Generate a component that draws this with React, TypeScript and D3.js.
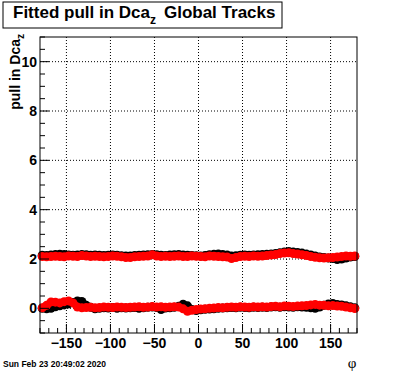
import * as d3 from 'd3';
import React from 'react';

// phi bins: 72 bins of 5 degrees over [-180, 180]
const binLow = -180, binWidth = 5, nBins = 72
const phiBins = d3.range(nBins).map(i => binLow + binWidth * (i + 0.5))

// upper band (fit width), black then red
const upperBlack = [
  2.15, 2.14, 2.16, 2.18, 2.19, 2.18, 2.16, 2.15, 2.16, 2.18,
  2.17, 2.15, 2.16, 2.15, 2.14, 2.15, 2.16, 2.15, 2.13, 2.12,
  2.12, 2.14, 2.15, 2.16, 2.17, 2.18, 2.17, 2.15, 2.14, 2.16,
  2.17, 2.18, 2.16, 2.15, 2.14, 2.13, 2.12, 2.14, 2.17, 2.19,
  2.20, 2.18, 2.16, 2.12, 2.13, 2.15, 2.16, 2.15, 2.16, 2.17,
  2.18, 2.19, 2.20, 2.22, 2.25, 2.28, 2.30, 2.28, 2.26, 2.24,
  2.20, 2.16, 2.12, 2.08, 2.06, 2.04, 2.02, 1.98, 2.00, 2.04, 2.08, 2.10
]
const upperRed = [
  2.10, 2.09, 2.10, 2.11, 2.10, 2.09, 2.12, 2.11, 2.10, 2.14,
  2.12, 2.10, 2.11, 2.10, 2.09, 2.10, 2.12, 2.11, 2.09, 2.06,
  2.06, 2.09, 2.10, 2.11, 2.12, 2.17, 2.12, 2.10, 2.11, 2.10,
  2.11, 2.12, 2.10, 2.10, 2.12, 2.11, 2.10, 2.09, 2.12, 2.11,
  2.10, 2.09, 2.08, 2.02, 2.06, 2.10, 2.11, 2.10, 2.12, 2.11,
  2.12, 2.14, 2.16, 2.18, 2.22, 2.24, 2.25, 2.22, 2.20, 2.17,
  2.14, 2.10, 2.07, 2.05, 2.04, 2.05, 2.06, 2.08, 2.10, 2.12, 2.11, 2.12
]
// lower band (fit mean), black then red
const lowerBlack = [
  0.00, -0.02, 0.00, 0.06, 0.10, 0.14, 0.18, 0.24, 0.30, 0.28,
  0.12, 0.04, -0.02, 0.00, 0.02, 0.01, 0.03, 0.00, 0.02, 0.01,
  0.02, 0.03, 0.00, 0.02, 0.04, 0.05, 0.03, -0.05, 0.01, 0.02,
  0.04, 0.08, 0.17, 0.10, -0.05, -0.09, -0.06, -0.04, -0.03, -0.02,
  0.00, 0.01, 0.02, 0.03, 0.02, 0.04, 0.03, 0.02, 0.04, 0.03,
  0.04, 0.03, 0.05, 0.06, 0.04, 0.06, 0.05, 0.04, 0.06, 0.05,
  0.04, 0.02, 0.00, 0.05, 0.12, 0.18, 0.20, 0.16, 0.14, 0.10, 0.06, 0.02
]
const lowerRed = [
  0.02, 0.12, 0.26, 0.25, 0.22, 0.27, 0.30, 0.22, 0.05, 0.02,
  0.03, 0.04, 0.02, 0.03, 0.05, 0.04, 0.03, 0.05, 0.04, 0.03,
  0.04, 0.05, 0.06, 0.04, 0.05, 0.07, 0.05, 0.06, 0.04, 0.05,
  0.06, 0.05, -0.02, -0.12, -0.08, -0.05, -0.03, -0.02, 0.00, 0.01,
  0.03, 0.02, 0.04, 0.05, 0.04, 0.06, 0.05, 0.04, 0.06, 0.05,
  0.06, 0.05, 0.07, 0.08, 0.06, 0.09, 0.08, 0.07, 0.09, 0.10,
  0.11, 0.14, 0.16, 0.13, 0.12, 0.10, 0.11, 0.09, 0.08, 0.05, 0.02, -0.01
]

const xTicks = [-150, -100, -50, 0, 50, 100, 150]
const yTicks = [0, 2, 4, 6, 8, 10]

export default function App() {
  const width = 396, height = 372
  const left = 40, right = 357, top = 37, bottom = 333
  const font = 'Liberation Sans, Arial, sans-serif'

  const x = d3.scaleLinear().domain([-180, 180]).range([left, right])
  const y = d3.scaleLinear().domain([-1, 11]).range([bottom, top])

  const xMinor = d3.range(-180, 181, 10)
  const yMinor = d3.range(-1, 11.01, 0.5)

  const line = d3.line<number>().x((d, i) => x(phiBins[i])).y(d => y(d))

  const series = [
    { vals: upperBlack, color: 'black' },
    { vals: lowerBlack, color: 'black' },
    { vals: upperRed, color: '#ff0000' },
    { vals: lowerRed, color: '#ff0000' },
  ]

  return (
    <svg width={width} height={height} style={{ position: 'fixed', left: 0, top: 0, background: 'white' }}>
      <rect x={0} y={0} width={width} height={height} fill="white" />
      {/* grid */}
      {xTicks.map(t => (
        <line key={'gx' + t} x1={x(t)} x2={x(t)} y1={top} y2={bottom} stroke="black" strokeDasharray="1,2" />
      ))}
      {yTicks.map(t => (
        <line key={'gy' + t} x1={left} x2={right} y1={y(t)} y2={y(t)} stroke="black" strokeDasharray="1,2" />
      ))}
      {/* data */}
      {series.map((s, k) => (
        <g key={k}>
          <path d={line(s.vals) || ''} fill="none" stroke={s.color} strokeWidth={7} strokeLinejoin="round" />
          {s.vals.map((v, i) => (
            <circle key={i} cx={x(phiBins[i])} cy={y(v)} r={4.5} fill={s.color} />
          ))}
        </g>
      ))}
      {/* frame */}
      <rect x={left} y={top} width={right - left} height={bottom - top} fill="none" stroke="black" />
      {/* ticks */}
      {xMinor.map(t => (
        <line key={'xt' + t} x1={x(t)} x2={x(t)} y1={bottom} y2={bottom - (t % 50 === 0 ? 9 : 5)} stroke="black" />
      ))}
      {yMinor.map(t => (
        <line key={'yt' + t} x1={left} x2={left + (t % 2 === 0 ? 9 : 5)} y1={y(t)} y2={y(t)} stroke="black" />
      ))}
      {xTicks.map(t => (
        <text key={'xl' + t} x={x(t)} y={348} textAnchor="middle" fontFamily={font} fontWeight="bold" fontSize={14}>
          {t < 0 ? '\u2212' + Math.abs(t) : t}
        </text>
      ))}
      {yTicks.map(t => (
        <text key={'yl' + t} x={37} y={y(t) + 5} textAnchor="end" fontFamily={font} fontWeight="bold" fontSize={14}>
          {t}
        </text>
      ))}
      {/* axis titles */}
      <text transform="translate(20,34) rotate(-90)" textAnchor="end" fontFamily={font} fontWeight="bold" fontSize={14}>
        pull in Dca<tspan dy={4} fontSize={10}>z</tspan>
      </text>
      <text x={352} y={368} textAnchor="middle" fontFamily="Liberation Serif, serif" fontSize={15}>φ</text>
      {/* title */}
      <rect x={3} y={2} width={279} height={26} fill="white" stroke="black" />
      <text x={13} y={18} fontFamily={font} fontWeight="bold" fontSize={17}>
        Fitted pull in Dca<tspan dy={6} fontSize={12}>z</tspan><tspan dy={-6} dx={8}>Global Tracks</tspan>
      </text>
      <text x={3} y={367} fontFamily={font} fontWeight="bold" fontSize={8.5}>Sun Feb 23 20:49:02 2020</text>
    </svg>
  )
}
